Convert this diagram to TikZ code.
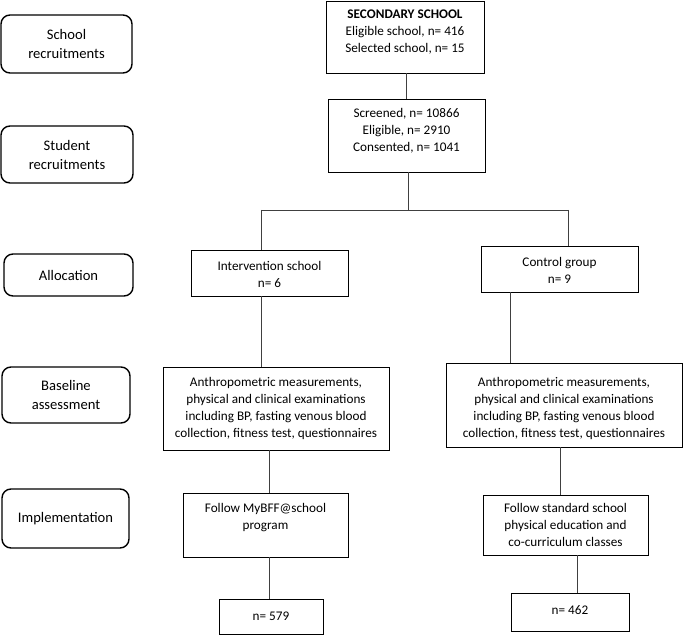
\documentclass[tikz,border=0pt]{standalone}
\usepackage{fontspec}
\setmainfont{Carlito}
\begin{document}
\begin{tikzpicture}[x=1pt,y=-1pt,
  box/.style={draw=black, line width=0.9pt, inner sep=0pt},
  stage/.style={draw=black, line width=1.4pt, rounded corners=9pt, inner sep=0pt,
    align=center, font=\fontsize{14.6}{19}\selectfont},
  txt/.style={align=center, inner sep=0pt, font=\fontsize{13.2}{17}\selectfont},
  conn/.style={draw=black!75, line width=0.9pt}]
\useasboundingbox (0,0) rectangle (685,636);
% stage boxes (left)
\node[stage, minimum width=131pt, minimum height=58pt] (s1) at (66.5,44) {School\\recruitments};
\node[stage, minimum width=132pt, minimum height=57pt] (s2) at (67,154.5) {Student\\recruitments};
\node[stage, minimum width=129pt, minimum height=42pt] (s3) at (68.5,275) {Allocation};
\node[stage, minimum width=128pt, minimum height=56pt] (s4) at (66,395) {Baseline\\assessment};
\node[stage, minimum width=127pt, minimum height=59pt] (s5) at (65.5,518.5) {Implementation};
% main boxes
\node[box, minimum width=158pt, minimum height=72pt] (sec) at (405,37) {};
\node[txt] (secT) at (405,32) {\textbf{SECONDARY SCHOOL}\\Eligible school, n= 416\\Selected school, n= 15};
\node[box, minimum width=157pt, minimum height=73pt] (scr) at (406.5,135.5) {};
\node[txt] (scrT) at (406.5,131) {Screened, n= 10866\\Eligible, n= 2910\\Consented, n= 1041};
\node[box, minimum width=157pt, minimum height=46pt] (int) at (269.5,273) {};
\node[txt] (intT) at (269.5,274) {Intervention school\\n= 6};
\node[box, minimum width=157pt, minimum height=46pt] (ctl) at (559.5,269) {};
\node[txt] (ctlT) at (559.5,270.5) {Control group\\n= 9};
\node[box, minimum width=226pt, minimum height=83pt] (bl) at (276,408.5) {};
\node[txt] (blT) at (276,408.5) {Anthropometric measurements,\\physical and clinical examinations\\including BP, fasting venous blood\\collection, fitness test, questionnaires};
\node[box, minimum width=236pt, minimum height=84pt] (br) at (564,405) {};
\node[txt] (brT) at (564,408.5) {Anthropometric measurements,\\physical and clinical examinations\\including BP, fasting venous blood\\collection, fitness test, questionnaires};
\node[box, minimum width=165pt, minimum height=64pt] (il) at (265.5,525) {};
\node[txt] (ilT) at (265.5,518) {Follow MyBFF@school\\program};
\node[box, minimum width=165pt, minimum height=60pt] (ir) at (565.5,525) {};
\node[txt] (irT) at (565.5,525) {Follow standard school\\physical education and\\co-curriculum classes};
\node[box, minimum width=104pt, minimum height=35pt] (nl) at (271,617) {};
\node[txt] (nlT) at (271,616) {n= 579};
\node[box, minimum width=118pt, minimum height=38pt] (nr) at (570,612) {};
\node[txt] (nrT) at (570,610) {n= 462};
% connectors
\coordinate (split) at (408,210);
\coordinate (jl) at (261,210);
\coordinate (jr) at (568,210);
\draw[conn] (sec.south -| 406,0) -- (scr.north -| 406,0);
\draw[conn] (scr.south -| split) -- (split);
\draw[conn] (jl) -- (jr);
\draw[conn] (jl) -- (int.north -| jl);
\draw[conn] (jr) -- (ctl.north -| jr);
\draw[conn] (int.south -| 261,0) -- (bl.north -| 261,0);
\draw[conn] (ctl.south -| 510,0) -- (br.north -| 510,0);
\draw[conn] (bl.south -| 269,0) -- (il.north -| 269,0);
\draw[conn] (br.south -| 560,0) -- (ir.north -| 560,0);
\draw[conn] (il.south -| 269,0) -- (nl.north -| 269,0);
\draw[conn] (ir.south -| 577,0) -- (nr.north -| 577,0);
\end{tikzpicture}
\end{document}
